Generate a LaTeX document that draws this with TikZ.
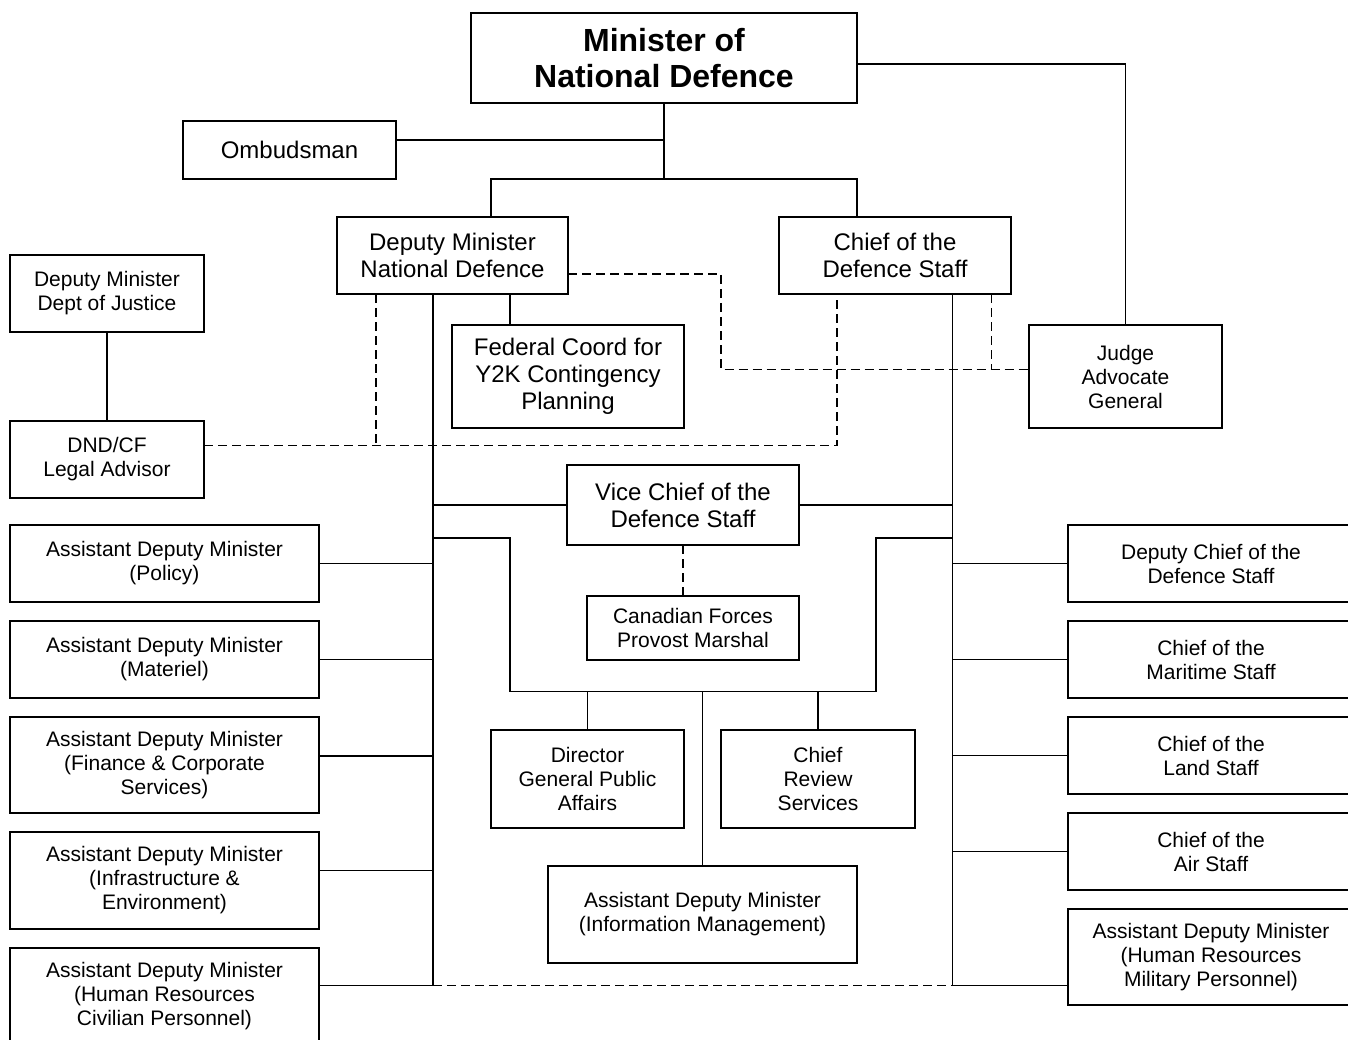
\documentclass[tikz,border=0pt]{standalone}
\usepackage{fontspec}
\setmainfont{Liberation Sans}
\usepackage{tikz}
\usetikzlibrary{positioning}
\newcommand{\txtbig}{\fontsize{32}{36}\selectfont\bfseries}
\newcommand{\txtmid}{\fontsize{24}{27}\selectfont}
\newcommand{\txtsmall}{\fontsize{21}{24}\selectfont}

\begin{document}
\begin{tikzpicture}[x=1pt,y=-1pt,line width=1.3pt,node distance=19pt]
  \tikzstyle{office}=[draw,line width=1.8pt,align=center,inner sep=0pt,outer sep=0pt,font=\txtsmall]
  \tikzstyle{link}=[dash pattern=on 9pt off 5pt]

  \clip (0,0) rectangle (1348,1040);

  \node[office,font=\txtbig,minimum width=386,minimum height=90] (mnd) at (664,58) {Minister of\\National Defence};
  \node[office,font=\txtmid,minimum width=213,minimum height=58] (omb) at (289.5,150) {Ombudsman};
  \node[office,font=\txtmid,minimum width=231,minimum height=77] (dmnd) at (452.5,255.5) {Deputy Minister\\National Defence};
  \node[office,font=\txtmid,minimum width=232,minimum height=77] (cds) at (895,255.5) {Chief of the\\Defence Staff};
  \node[office,minimum width=193,minimum height=103] (jag) at (1125.5,376.5) {Judge\\Advocate\\General};
  \node[office,minimum width=194,minimum height=77] (dmdj) at (107,293.5) {Deputy Minister\\Dept of Justice};
  \node[office,minimum width=194,minimum height=77] (legal) at (107,459.5) {DND/CF\\Legal Advisor};
  \node[office,font=\txtmid,minimum width=232,minimum height=103] (y2k) at (568,376.5) {Federal Coord for\\Y2K Contingency\\Planning};
  \node[office,font=\txtmid,minimum width=232,minimum height=80] (vcds) at (683,505) {Vice Chief of the\\Defence Staff};
  \node[office,minimum width=212,minimum height=64] (cfpm) at (693,628) {Canadian Forces\\Provost Marshal};
  \node[office,minimum width=193,minimum height=98] (dgpa) at (587.5,779) {Director\\General Public\\Affairs};
  \node[office,minimum width=194,minimum height=98] (crs) at (818,779) {Chief\\Review\\Services};
  \node[office,minimum width=309,minimum height=97] (admim) at (702.5,914.5) {Assistant Deputy Minister\\(Information Management)};

  \node[office,minimum width=309,minimum height=77] (pol) at (164.5,563.5) {Assistant Deputy Minister\\(Policy)};
  \node[office,minimum width=309,minimum height=77] (mat) [below=of pol] {Assistant Deputy Minister\\(Materiel)};
  \node[office,minimum width=309,minimum height=96] (fin) [below=of mat] {Assistant Deputy Minister\\(Finance \& Corporate\\Services)};
  \node[office,minimum width=309,minimum height=97] (inf) [below=of fin] {Assistant Deputy Minister\\(Infrastructure \&\\Environment)};
  \node[office,minimum width=309,minimum height=96] (hrc) [below=of inf] {Assistant Deputy Minister\\(Human Resources\\Civilian Personnel)};

  \node[office,minimum width=286,minimum height=77] (dcds) at (1211,563.5) {Deputy Chief of the\\Defence Staff};
  \node[office,minimum width=286,minimum height=77] (cms) [below=of dcds] {Chief of the\\Maritime Staff};
  \node[office,minimum width=286,minimum height=77] (cls) [below=of cms] {Chief of the\\Land Staff};
  \node[office,minimum width=286,minimum height=77] (cas) [below=of cls] {Chief of the\\Air Staff};
  \node[office,minimum width=286,minimum height=96] (hrm) [below=of cas] {Assistant Deputy Minister\\(Human Resources\\Military Personnel)};

  \coordinate (ltop) at ([xshift=-19.5]dmnd.south);
  \coordinate (rtop) at ([xshift=57.7]cds.south);
  \coordinate (base) at ([yshift=10.5]hrc.east);
  \coordinate (looptop) at (0,538);
  \coordinate (loopl) at (510,691.5);
  \coordinate (loopr) at (876,691.5);
  \coordinate (lawline) at ([yshift=14]legal.east);
  \coordinate (jagin) at ([yshift=7]jag.west);

  \draw (mnd.south) -- ++(0,76) coordinate (split);
  \draw ([yshift=10]omb.east) -- ([yshift=10]omb.east -| split);
  \draw ([xshift=38.5]dmnd.north) |- (split) -| ([xshift=-38]cds.north);
  \draw ([yshift=-6]mnd.east) -| (jag.north);
  \draw (dmdj) -- (legal);
  \draw ([xshift=-58]y2k.north) -- ([xshift=-58]y2k.north |- dmnd.south);

  \draw (ltop) -- (ltop |- base);
  \draw (rtop) -- (rtop |- base);
  \draw (base) -- (ltop |- base);
  \draw (hrm.west |- base) -- (rtop |- base);
  \draw[link] (ltop |- base) -- (rtop |- base);
  \foreach \n/\s in {pol/0,mat/0,fin/9,inf/10}
    \draw ([yshift=\s]\n.east) -- ([yshift=\s]\n.east -| ltop);
  \foreach \n in {dcds,cms,cls,cas}
    \draw (\n.west) -- (\n.west -| rtop);

  \draw (vcds.west) -- (vcds.west -| ltop);
  \draw (vcds.east) -- (vcds.east -| rtop);
  \draw (ltop |- looptop) -| (loopl) -- (loopr) |- (rtop |- looptop);
  \foreach \n in {dgpa,crs,admim}
    \draw (\n.north) -- (\n.north |- loopl);
  \draw[link] (vcds.south) -- (cfpm.north -| vcds.south);

  \draw[link] (lawline) -| ([xshift=-58]cds.south);
  \draw[link] ([xshift=-76.5]dmnd.south) -- ([xshift=-76.5]dmnd.south |- lawline);
  \draw[link] ([yshift=-18.5]dmnd.east) -- ++(153,0) |- (jagin);
  \draw[link] ([xshift=96.5]cds.south) -- ([xshift=96.5]cds.south |- jagin);
\end{tikzpicture}
\end{document}
